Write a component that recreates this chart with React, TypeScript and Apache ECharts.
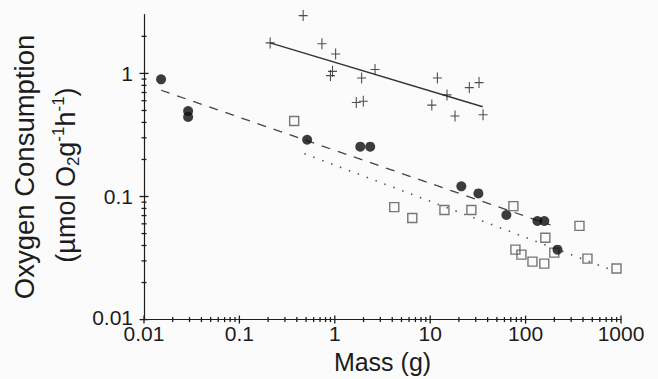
import React, { useEffect, useRef } from "react";
import * as echarts from "echarts";

// Filled circles (dashed fit)
const massCircles = [0.0151, 0.029, 0.029, 0.513, 1.85, 2.35, 21.2, 32.0, 62.9, 133, 157, 216];
const o2Circles = [0.895, 0.495, 0.443, 0.289, 0.254, 0.254, 0.121, 0.106, 0.0708, 0.0633, 0.0633, 0.037];

// Open squares (dotted fit)
const massSquares = [0.375, 4.2, 6.49, 14.1, 27.0, 74.5, 367, 161, 78.2, 90.4, 118, 157, 200, 445, 897];
const o2Squares = [0.411, 0.082, 0.0669, 0.0776, 0.0776, 0.0836, 0.0577, 0.0462, 0.037, 0.0337, 0.0296, 0.0285, 0.035, 0.0313, 0.026];

// Crosses (solid fit)
const massCrosses = [0.466, 0.21, 0.733, 1.02, 0.946, 0.9, 1.91, 2.64, 1.68, 1.99, 11.9, 15.0, 10.4, 18.2, 25.7, 32.5, 35.8];
const o2Crosses = [2.95, 1.77, 1.74, 1.44, 1.04, 0.96, 0.917, 1.077, 0.581, 0.595, 0.917, 0.669, 0.553, 0.451, 0.767, 0.842, 0.462];

// Regression line end points
const fitCirclesMass = [0.0151, 182];
const fitCirclesO2 = [0.73, 0.0588];
const fitSquaresMass = [0.48, 850];
const fitSquaresO2 = [0.223, 0.0248];
const fitCrossesMass = [0.21, 35.5];
const fitCrossesO2 = [1.77, 0.536];

// Axis ticks
const xDecades = [0.01, 0.1, 1, 10, 100, 1000];
const yDecades = [0.01, 0.1, 1];
const xMin = 0.01, xMax = 1000, yMin = 0.01, yMax = 3;
const minorMultipliers = [2, 3, 4, 5, 6, 7, 8, 9];

const FONT = '"Liberation Sans", Arial, Helvetica, sans-serif';
const INK = "#1c1c1c";

function zip(a: number[], b: number[]) {
  return a.map((v, i) => [v, b[i]]);
}

export default function App() {
  const ref = useRef<HTMLDivElement>(null);
  useEffect(() => {
    if (!ref.current) return;
    const chart = echarts.init(ref.current, undefined, { renderer: "svg" });

    const xTicks: number[][] = [];
    xDecades.forEach((d) => {
      xTicks.push([d, yMin, 4]);
      minorMultipliers.forEach((m) => {
        const v = d * m;
        if (v < xMax * 0.999) xTicks.push([v, yMin, 2.5]);
      });
    });
    const yTicks: number[][] = [];
    yDecades.forEach((d) => {
      yTicks.push([xMin, d, 4.5]);
      minorMultipliers.forEach((m) => {
        const v = d * m;
        if (v < yMax * 0.99) yTicks.push([xMin, v, 2.5]);
      });
    });

    const findDecade = (list: number[], v: number) =>
      list.find((d) => Math.abs(Math.log10(v) - Math.log10(d)) < 1e-6);

    chart.setOption({
      animation: false,
      backgroundColor: "#fbfbfb",
      grid: { left: 144, right: 37, top: 14.7, bottom: 56.3, containLabel: false },
      xAxis: {
        type: "log",
        logBase: 10,
        min: xMin,
        max: xMax,
        axisLine: { show: true, lineStyle: { color: INK, width: 1.2 } },
        axisTick: { show: false },
        splitLine: { show: false },
        minorTick: { show: false },
        axisLabel: {
          formatter: (v: number) => {
            const hit = findDecade(xDecades, v);
            return hit === undefined ? "" : String(hit);
          },
          color: INK,
          fontFamily: FONT,
          fontSize: 21,
          lineHeight: 12,
          margin: 8,
          showMinLabel: true,
          showMaxLabel: true,
        },
        name: "Mass (g)",
        nameLocation: "middle",
        nameGap: 25,
        nameTextStyle: { fontFamily: FONT, fontSize: 25, color: INK, verticalAlign: "top" },
      },
      yAxis: {
        type: "log",
        logBase: 10,
        min: yMin,
        max: yMax,
        axisLine: { show: true, lineStyle: { color: INK, width: 1.2 } },
        axisTick: { show: false },
        splitLine: { show: false },
        minorTick: { show: false },
        axisLabel: {
          formatter: (v: number) => {
            const hit = findDecade(yDecades, v);
            if (hit === undefined) return "";
            return hit === yMin ? "{lo|" + String(hit) + "}" : String(hit);
          },
          color: INK,
          fontFamily: FONT,
          fontSize: 21,
          lineHeight: 12,
          margin: 11,
          showMinLabel: true,
          showMaxLabel: false,
          rich: {
            lo: { fontFamily: FONT, fontSize: 21, color: INK, lineHeight: 12, padding: [0, 0, 5, 0] },
          },
        },
      },
      graphic: [
        {
          type: "text",
          x: 24,
          y: 167,
          rotation: Math.PI / 2,
          style: {
            text: "Oxygen Consumption",
            fontFamily: FONT,
            fontSize: 27.5,
            fill: INK,
            align: "center",
            verticalAlign: "middle",
          },
        },
        {
          type: "text",
          x: 66,
          y: 175,
          rotation: Math.PI / 2,
          style: {
            text: "{a|(µmol O}{sub|2}{a|g}{sup|-1}{a|h}{sup|-1}{a|)}",
            fill: INK,
            align: "center",
            verticalAlign: "middle",
            rich: {
              a: { fontFamily: FONT, fontSize: 27, fill: INK, lineHeight: 32 },
              sub: { fontFamily: FONT, fontSize: 17, fill: INK, verticalAlign: "bottom", lineHeight: 32 },
              sup: { fontFamily: FONT, fontSize: 17, fill: INK, verticalAlign: "top", lineHeight: 32 },
            },
          },
        },
      ],
      series: [
        {
          type: "custom",
          silent: true,
          clip: false,
          data: xTicks,
          encode: { x: 0, y: 1 },
          renderItem: (params: any, api: any) => {
            const p = api.coord([api.value(0), api.value(1)]);
            const len = api.value(2);
            return {
              type: "line",
              shape: { x1: p[0], y1: p[1] - len, x2: p[0], y2: p[1] + len },
              style: { stroke: INK, lineWidth: 1.3 },
            };
          },
          z: 5,
        },
        {
          type: "custom",
          silent: true,
          clip: false,
          data: yTicks,
          encode: { x: 0, y: 1 },
          renderItem: (params: any, api: any) => {
            const p = api.coord([api.value(0), api.value(1)]);
            const len = api.value(2);
            return {
              type: "line",
              shape: { x1: p[0] - len, y1: p[1], x2: p[0] + len, y2: p[1] },
              style: { stroke: INK, lineWidth: 1.3 },
            };
          },
          z: 5,
        },
        {
          type: "line",
          data: zip(fitCirclesMass, fitCirclesO2),
          showSymbol: false,
          lineStyle: { color: "#444", width: 1.3, type: [9, 8] },
          z: 2,
        },
        {
          type: "line",
          data: zip(fitSquaresMass, fitSquaresO2),
          showSymbol: false,
          lineStyle: { color: "#555", width: 1.6, type: [1.5, 8] },
          z: 2,
        },
        {
          type: "line",
          data: zip(fitCrossesMass, fitCrossesO2),
          showSymbol: false,
          lineStyle: { color: "#333", width: 1.4, type: "solid" },
          z: 2,
        },
        {
          type: "scatter",
          data: zip(massSquares, o2Squares),
          symbol: "rect",
          symbolSize: 9,
          itemStyle: { color: "rgba(0,0,0,0)", borderColor: "#555", borderWidth: 1.4 },
          z: 3,
        },
        {
          type: "scatter",
          data: zip(massCircles, o2Circles),
          symbol: "circle",
          symbolSize: 10,
          itemStyle: { color: "#0d0d0d" },
          z: 4,
        },
        {
          type: "scatter",
          data: zip(massCrosses, o2Crosses),
          symbol: "path://M4.4,0H5.6V12H4.4ZM0,5.4H10V6.6H0Z",
          symbolSize: [9, 11],
          itemStyle: { color: "#222" },
          z: 4,
        },
      ],
    });
    return () => chart.dispose();
  }, []);
  return (
    <div
      ref={ref}
      style={{ position: "fixed", left: 0, top: 0, width: 658, height: 379 }}
    />
  );
}
